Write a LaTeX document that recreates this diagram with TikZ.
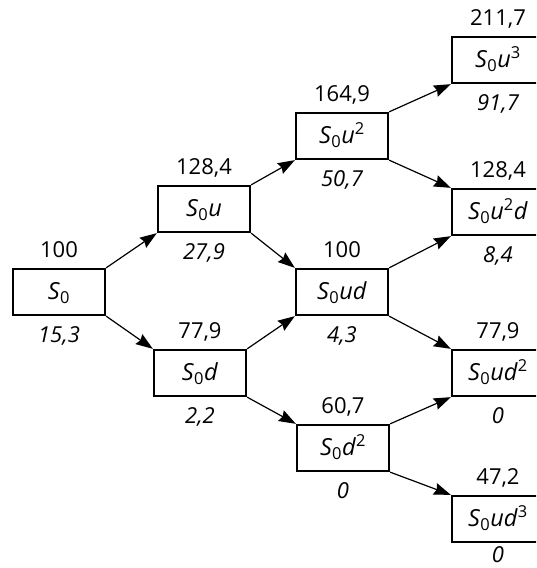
\documentclass[tikz,border=0pt]{standalone}
\usepackage{fontspec}
\setmainfont{Open Sans}
\usetikzlibrary{arrows.meta}
\newcommand{\Sz}{\textit{S}\textsubscript{0}}
\tikzset{
  txt/.style={font=\fontsize{22}{26}\selectfont, inner sep=0pt, text height=15.5pt, text depth=0pt},
  box/.style={txt, font=\fontsize{23.5}{27}\selectfont, draw, line width=2.3pt, minimum width=92pt, minimum height=46pt},
  val/.style={txt},
  opt/.style={txt, font=\fontsize{22}{26}\selectfont\itshape},
  arr/.style={-{Stealth[length=17pt,width=12pt,inset=2pt]}, line width=1.2pt},
}
\begin{document}
\begin{tikzpicture}[x=1pt,y=-1pt]
\useasboundingbox (0,0) rectangle (536,568);
\clip (0,0) rectangle (536,568);
\node[box] (A) at (59,292) {\Sz};
\node[box] (B) at (204,209) {\Sz\textit{u}};
\node[box] (C) at (200,373) {\Sz\textit{d}};
\node[box] (D) at (342,136) {\Sz\textit{u}\textsuperscript{2}};
\node[box] (E) at (342,292) {\Sz\textit{ud}};
\node[box] (F) at (343,448) {\Sz\textit{d}\textsuperscript{2}};
\node[box] (G) at (498,60) {\Sz\textit{u}\textsuperscript{3}};
\node[box] (H) at (498,212) {\Sz\textit{u}\textsuperscript{2}\textit{d}};
\node[box] (I) at (498,373) {\Sz\textit{ud}\textsuperscript{2}};
\node[box] (J) at (498,519) {\Sz\textit{ud}\textsuperscript{3}};
\path (A.north) ++(0,-18) node[val] (Av) {100};
\path (A.south) ++(0,19) node[opt] (Ao) {15,3};
\path (B.north) ++(0,-18) node[val] (Bv) {128,4};
\path (B.south) ++(0,19) node[opt] (Bo) {27,9};
\path (C.north) ++(0,-18) node[val] (Cv) {77,9};
\path (C.south) ++(0,19) node[opt] (Co) {2,2};
\path (D.north) ++(0,-18) node[val] (Dv) {164,9};
\path (D.south) ++(0,19) node[opt] (Do) {50,7};
\path (E.north) ++(0,-18) node[val] (Ev) {100};
\path (E.south) ++(0,19) node[opt] (Eo) {4,3};
\path (F.north) ++(0,-18) node[val] (Fv) {60,7};
\path (F.south) ++(0,19) node[opt] (Fo) {0};
\path (G.north) ++(0,-18) node[val] (Gv) {211,7};
\path (G.south) ++(0,19) node[opt] (Go) {91,7};
\path (H.north) ++(0,-18) node[val] (Hv) {128,4};
\path (H.south) ++(0,19) node[opt] (Ho) {8,4};
\path (I.north) ++(0,-18) node[val] (Iv) {77,9};
\path (I.south) ++(0,19) node[opt] (Io) {0};
\path (J.north) ++(0,-18) node[val] (Jv) {47,2};
\path (J.south) ++(0,12) node[opt] (Jo) {0};
\draw[arr] (A.north east) -- (B.south west);
\draw[arr] (A.south east) -- (C.north west);
\draw[arr] (B.north east) -- (D.south west);
\draw[arr] (B.south east) -- (E.north west);
\draw[arr] (C.north east) -- (E.south west);
\draw[arr] (C.south east) -- (F.north west);
\draw[arr] (D.north east) -- (G.south west);
\draw[arr] (D.south east) -- (H.north west);
\draw[arr] (E.north east) -- (H.south west);
\draw[arr] (E.south east) -- (I.north west);
\draw[arr] (F.north east) -- (I.south west);
\draw[arr] (F.south east) -- (J.north west);
\end{tikzpicture}
\end{document}
